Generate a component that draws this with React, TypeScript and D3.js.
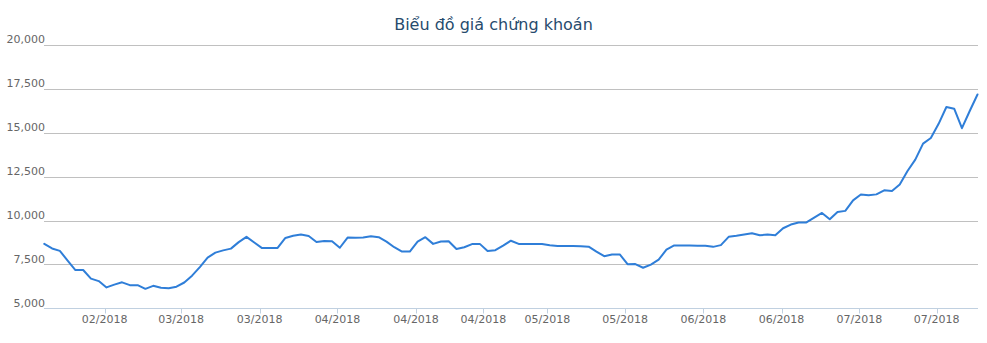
import React from "react";
import * as d3 from "d3";

const title = "Biểu đồ giá chứng khoán";

const prices: number[] = [
  8670, 8410, 8270, 7720, 7180, 7180, 6690, 6550, 6190, 6350,
  6480, 6320, 6320, 6110, 6280, 6170, 6140, 6230, 6470, 6860,
  7350, 7890, 8170, 8300, 8400, 8770, 9070, 8750, 8430, 8440,
  8440, 9010, 9130, 9200, 9120, 8780, 8840, 8820, 8450, 9030,
  9020, 9040, 9100, 9050, 8800, 8480, 8230, 8230, 8800, 9050,
  8670, 8810, 8820, 8380, 8480, 8660, 8670, 8270, 8310, 8570,
  8850, 8670, 8670, 8660, 8660, 8590, 8550, 8550, 8550, 8540,
  8510, 8230, 7970, 8070, 8070, 7510, 7520, 7310, 7490, 7770,
  8340, 8580, 8580, 8580, 8560, 8560, 8500, 8600, 9070, 9130,
  9200, 9280, 9160, 9200, 9160, 9560, 9770, 9890, 9890, 10170,
  10430, 10070, 10490, 10550, 11150, 11480, 11440, 11490, 11720, 11680,
  12050, 12820, 13470, 14380, 14700, 15510, 16470, 16370, 15260, 16240,
  17180,
];

const xTickPositions: number[] = [7.75, 17.6, 27.7, 37.7, 47.8, 56.45, 64.7, 74.7, 84.75, 94.8, 104.8, 114.75];
const xTickLabels: string[] = [
  "02/2018", "03/2018", "03/2018", "04/2018", "04/2018", "04/2018",
  "05/2018", "05/2018", "06/2018", "06/2018", "07/2018", "07/2018",
];
const yTicks: number[] = [5000, 7500, 10000, 12500, 15000, 17500, 20000];

const W = 987;
const H = 343;
const plotLeft = 44.3;
const plotRight = 977.5;
const plotTop = 45;
const plotBottom = 308.3;
const font = "'DejaVu Sans', Verdana, Arial, sans-serif";

export default function App() {
  const x = d3.scaleLinear().domain([0, prices.length - 1]).range([plotLeft, plotRight]);
  const y = d3.scaleLinear().domain([5000, 20000]).range([plotBottom, plotTop]);
  const line = d3
    .line<number>()
    .x((_, i) => x(i))
    .y((d) => y(d));
  const fmt = d3.format(",");
  const axisY = Math.round(plotBottom) + 0.5;

  return (
    <svg
      width={W}
      height={H}
      style={{ position: "absolute", left: 0, top: 0, background: "#fff" }}
      fontFamily={font}
    >
      <rect x={0} y={0} width={W} height={H} fill="#fff" />
      <text x={W / 2} y={29.5} textAnchor="middle" fontSize={16} fill="#274b6d">
        {title}
      </text>
      {yTicks.map((t) => {
        const yy = Math.round(y(t)) + 0.5;
        return (
          <g key={t}>
            {t !== 5000 && (
              <line x1={Math.round(plotLeft)} x2={Math.round(plotRight)} y1={yy} y2={yy} stroke="#C0C0C0" strokeWidth={1} />
            )}
            <text x={45} y={y(t) - 1.8} textAnchor="end" fontSize={11} fill="#666">
              {fmt(t)}
            </text>
          </g>
        );
      })}
      <line x1={Math.round(plotLeft)} x2={Math.round(plotRight)} y1={axisY} y2={axisY} stroke="#C0D0E0" strokeWidth={1} />
      {xTickPositions.map((p, i) => {
        const xx = Math.round(x(p)) + 0.5;
        return (
          <g key={i}>
            <line x1={xx} x2={xx} y1={axisY} y2={axisY + 5} stroke="#C0D0E0" strokeWidth={1} />
            <text x={x(p)} y={323} textAnchor="middle" fontSize={11} fill="#666">
              {xTickLabels[i]}
            </text>
          </g>
        );
      })}
      <path d={line(prices) || ""} fill="none" stroke="#2f7ed8" strokeWidth={2} strokeLinejoin="round" strokeLinecap="round" />
    </svg>
  );
}
